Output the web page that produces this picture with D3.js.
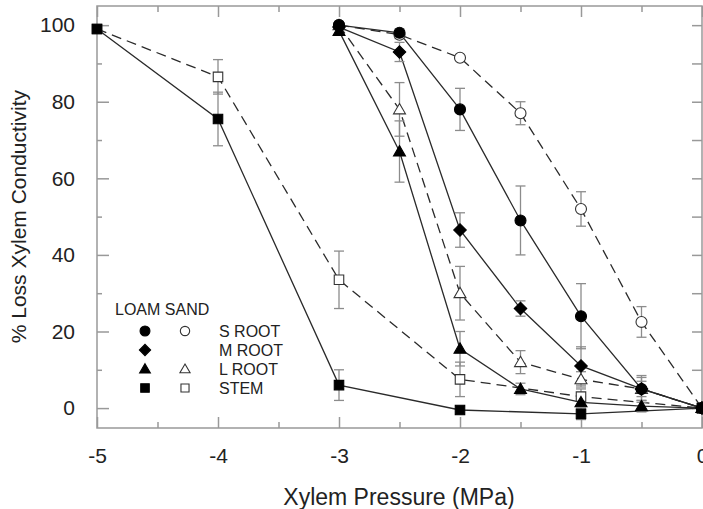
<!DOCTYPE html>
<html>
<head>
<meta charset="utf-8">
<script src="https://cdn.jsdelivr.net/npm/d3@7"></script>
<style>
  body { margin: 0; background: #fff; }
  svg { display: block; font-family: Arial, "Liberation Sans", sans-serif; }
</style>
</head>
<body>
<div class="canvas"></div>
<script>
// pressures (MPa)
const rootX = [-3, -2.5, -2, -1.5, -1, -0.5, 0];
const stemX = [-5, -4, -3, -2, -1, 0];

// % loss
const sRootLoam = [100, 98, 78, 49, 24, 5, 0];
const sRootLoamErr = [0, 1, 5.5, 9, 8.5, 3, 0];
const sRootSand = [100, 97.5, 91.5, 77, 52, 22.5, 0];
const sRootSandErr = [0, 1, 0, 3, 4.5, 4, 0];
const mRootLoam = [99.5, 93, 46.5, 26, 11, 5, 0];
const mRootLoamErr = [0, 2.5, 4.5, 2, 5, 3.5, 0];
const lRootLoam = [98.5, 67, 15.5, 5, 1.5, 0.5, 0];
const lRootLoamErr = [0, 8, 4.5, 1.5, 1, 1.5, 0];
const lRootSand = [100, 78, 30, 12, 7.5, 5, 0];
const lRootSandErr = [0, 7, 7, 3, 2, 2, 0];
const stemLoam = [99, 75.5, 6, -0.5, -1.5, 0];
const stemLoamErr = [0, 7, 4, 1, 1.5, 0];
const stemSand = [99, 86.5, 33.5, 7.5, 3, 0];
const stemSandErr = [1, 4.5, 7.5, 4.5, 2, 0];

const xTicks = [-5, -4, -3, -2, -1, 0];
const yTicks = [0, 20, 40, 60, 80, 100];
const legendRows = ['S ROOT', 'M ROOT', 'L ROOT', 'STEM'];

const dims = {width: 703, height: 509};
const box = {left: 97, right: 702, top: 6, bottom: 428};

const svg = d3.select('.canvas')
    .append('svg')
    .attr('width', dims.width)
    .attr('height', dims.height);

const x = d3.scaleLinear().domain([-5, 0]).range([box.left, box.right]);
const y = d3.scaleLinear().domain([-5.2, 105]).range([box.bottom, box.top]);

const axisCol = '#999';
const plain = d => String(d);   // hyphen minus, like the original

// minor + major ticks, all pointing inward
const drawAxis = (axis, tx, ty) => {
    const g = svg.append('g')
        .attr('transform', `translate(${tx}, ${ty})`)
        .call(axis);
    g.select('.domain').remove();
    g.selectAll('line').attr('stroke', axisCol).attr('stroke-width', 1.5);
    return g;
};

const xMinor = d3.range(-4.5, 0, 1);
const yMinor = d3.range(10, 101, 20);

drawAxis(d3.axisBottom(x).tickValues(xMinor).tickSize(-6).tickFormat(''), 0, box.bottom);
drawAxis(d3.axisBottom(x).tickValues(xTicks).tickSize(-11).tickPadding(20).tickFormat(plain), 0, box.bottom)
    .selectAll('text').attr('font-size', 21).attr('fill', '#222');
drawAxis(d3.axisTop(x).tickValues(xMinor).tickSize(-6).tickFormat(''), 0, box.top);
drawAxis(d3.axisTop(x).tickValues(xTicks).tickSize(-11).tickFormat(''), 0, box.top);

drawAxis(d3.axisLeft(y).tickValues(yMinor).tickSize(-5).tickFormat(''), box.left, 0);
drawAxis(d3.axisLeft(y).tickValues(yTicks).tickSize(-12).tickPadding(22).tickFormat(plain), box.left, 0)
    .selectAll('text').attr('font-size', 21).attr('fill', '#222');
drawAxis(d3.axisRight(y).tickValues(d3.range(0, 101, 10)).tickSize(-10).tickFormat(''), box.right, 0);

svg.append('rect')
    .attr('x', box.left).attr('y', box.top)
    .attr('width', box.right - box.left).attr('height', box.bottom - box.top)
    .attr('fill', 'none').attr('stroke', axisCol).attr('stroke-width', 1.5);

svg.append('text')
    .attr('x', 399)
    .attr('y', 505)
    .attr('text-anchor', 'middle')
    .attr('font-size', 23)
    .attr('fill', '#222')
    .text('Xylem Pressure (MPa)');

svg.append('text')
    .attr('transform', `translate(26, ${y(50)}) rotate(-90)`)
    .attr('text-anchor', 'middle')
    .attr('font-size', 21)
    .attr('fill', '#222')
    .text('% Loss Xylem Conductivity');

const series = [
    {xs: stemX, ys: stemSand, err: stemSandErr, shape: 'square', open: true},
    {xs: rootX, ys: lRootSand, err: lRootSandErr, shape: 'triangle', open: true},
    {xs: rootX, ys: sRootSand, err: sRootSandErr, shape: 'circle', open: true},
    {xs: rootX, ys: lRootLoam, err: lRootLoamErr, shape: 'triangle', open: false},
    {xs: rootX, ys: mRootLoam, err: mRootLoamErr, shape: 'diamond', open: false},
    {xs: rootX, ys: sRootLoam, err: sRootLoamErr, shape: 'circle', open: false},
    {xs: stemX, ys: stemLoam, err: stemLoamErr, shape: 'square', open: false}
];

const symbols = {
    circle: d3.symbol().type(d3.symbolCircle).size(95),
    square: d3.symbol().type(d3.symbolSquare).size(90),
    diamond: d3.symbol().type(d3.symbolSquare).size(78),
    triangle: d3.symbol().type(d3.symbolTriangle).size(62)
};

const line = d3.line().x(d => x(d[0])).y(d => y(d[1]));

const graph = svg.append('g');

// lines
series.forEach(s => {
    const pts = s.xs.map((v, i) => [v, s.ys[i]]);
    graph.append('path')
        .attr('d', line(pts))
        .attr('fill', 'none')
        .attr('stroke', '#2a2a2a')
        .attr('stroke-width', 1.3)
        .attr('stroke-dasharray', s.open ? '10,6' : null);
});

// error bars
series.forEach(s => {
    s.xs.forEach((v, i) => {
        const e = s.err[i];
        if (!e) return;
        const cx = x(v), y1 = y(s.ys[i] + e), y2 = y(s.ys[i] - e);
        const g = graph.append('g').attr('stroke', '#8c8c8c').attr('stroke-width', 1.3);
        g.append('line').attr('x1', cx).attr('x2', cx).attr('y1', y1).attr('y2', y2);
        g.append('line').attr('x1', cx - 5).attr('x2', cx + 5).attr('y1', y1).attr('y2', y1);
        g.append('line').attr('x1', cx - 5).attr('x2', cx + 5).attr('y1', y2).attr('y2', y2);
    });
});

const drawMark = (g, shape, open, cx, cy, scale) => {
    g.append('path')
        .attr('d', symbols[shape]())
        .attr('transform', `translate(${cx}, ${cy}) scale(${scale})` + (shape === 'diamond' ? ' rotate(45)' : '') + (shape === 'triangle' ? ' translate(0,1)' : ''))
        .attr('fill', open ? '#fff' : '#000')
        .attr('stroke', open ? '#333' : '#000')
        .attr('stroke-width', 1.1 / scale);
};

// markers
series.forEach(s => {
    s.xs.forEach((v, i) => drawMark(graph, s.shape, s.open, x(v), y(s.ys[i]), 1));
});

// legend
const legend = svg.append('g').attr('font-size', 16).attr('fill', '#222');
legend.append('text').attr('x', 115).attr('y', 315).text('LOAM SAND');
const legendShapes = ['circle', 'diamond', 'triangle', 'square'];
const legendHasSand = [true, false, true, true];
legendRows.forEach((name, i) => {
    const cy = 331 + i * 19;
    drawMark(legend, legendShapes[i], false, 145, cy, 0.9);
    if (legendHasSand[i]) drawMark(legend, legendShapes[i], true, 185, cy, 0.85);
    legend.append('text').attr('x', 219).attr('y', cy + 6).text(name);
});
</script>
</body>
</html>
